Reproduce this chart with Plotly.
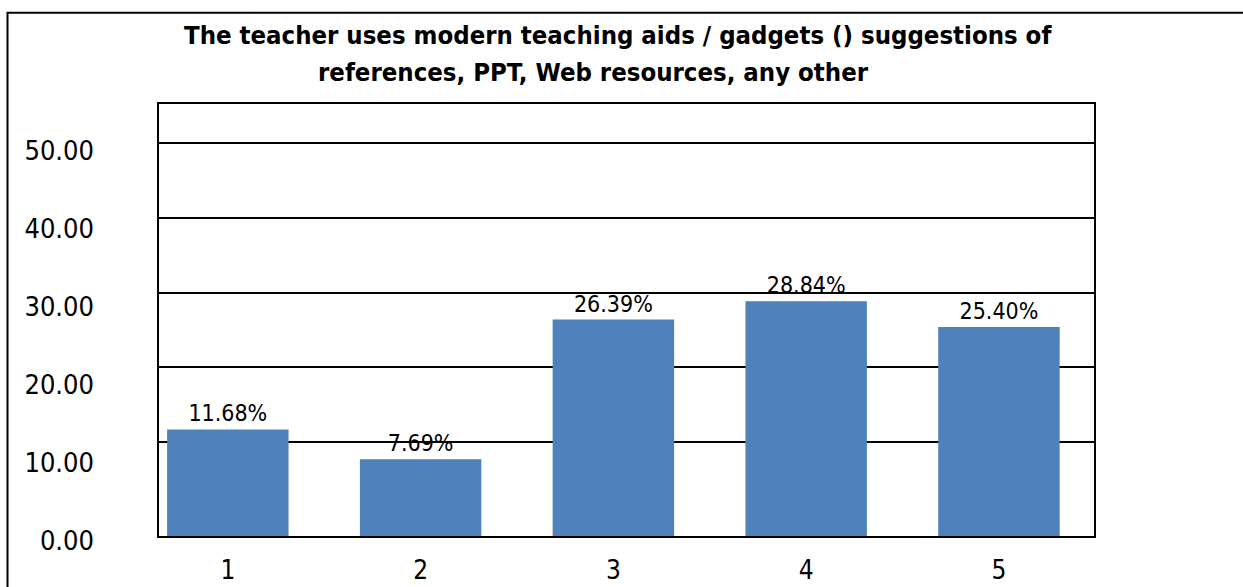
import plotly.graph_objects as go

# ---- data ----
categories = [1, 2, 3, 4, 5]
values = [11.68, 7.69, 26.39, 28.84, 25.40]
value_labels = ["11.68%", "7.69%", "26.39%", "28.84%", "25.40%"]
y_tick_values = [0, 10, 20, 30, 40, 50]
y_tick_labels = ["0.00", "10.00", "20.00", "30.00", "40.00", "50.00"]
grid_values = [10, 20, 30, 40, 50]
title_line1 = "The teacher uses modern teaching aids / gadgets () suggestions of"
title_line2 = "references, PPT, Web resources, any other"

# ---- layout constants ----
W, H = 1243, 587
L, R, T, B = 159, 149, 104, 51
PW, PH = W - L - R, H - T - B
FONT = "DejaVu Sans Condensed, Liberation Sans Narrow, Arial Narrow, Liberation Sans, sans-serif"
Y_MIN, Y_MAX = -2.575, 55.22          # value axis (bars + gridlines)
LBL_MIN, LBL_MAX = -1.538, 53.85       # tick-label axis
BAR_COLOR = "#4F81BD"

def px_x(p):
    return (p - L) / PW

def px_y(p):
    return (H - B - p) / PH

fig = go.Figure()
fig.add_trace(go.Bar(
    x=categories,
    y=[v - Y_MIN for v in values],
    base=Y_MIN,
    text=value_labels,
    textposition="outside",
    textfont=dict(family=FONT, size=23, color="black"),
    marker=dict(color=BAR_COLOR, line=dict(width=0)),
    width=0.63,
    cliponaxis=False,
    hoverinfo="skip",
    showlegend=False,
))
# carrier for the tick-label axis
fig.add_trace(go.Scatter(
    x=[categories[0]], y=[y_tick_values[0]], yaxis="y2",
    mode="markers", marker=dict(opacity=0), hoverinfo="skip", showlegend=False,
))

fig.update_layout(
    width=W, height=H,
    margin=dict(l=L, r=R, t=T, b=B, pad=0),
    paper_bgcolor="white", plot_bgcolor="white",
    font=dict(family=FONT, size=27, color="black"),
    xaxis=dict(
        type="linear", range=[0.643, 5.493], automargin=False,
        tickvals=categories, ticktext=[str(c) for c in categories],
        showgrid=False, zeroline=False,
        showline=True, mirror=True, linecolor="black", linewidth=2,
        ticks="", ticklabelstandoff=10,
        tickfont=dict(family=FONT, size=26, color="black"),
    ),
    yaxis=dict(
        range=[Y_MIN, Y_MAX], tickvals=grid_values, showticklabels=False,
        automargin=False,
        showgrid=True, gridcolor="black", gridwidth=2, zeroline=False,
        showline=True, mirror=True, linecolor="black", linewidth=2, ticks="",
    ),
    yaxis2=dict(
        overlaying="y", side="left", range=[LBL_MIN, LBL_MAX], automargin=False,
        tickvals=y_tick_values, ticktext=y_tick_labels,
        showgrid=False, zeroline=False, showline=False, ticks="",
        ticklabelshift=17, ticklabelstandoff=64,
        tickfont=dict(family=FONT, size=27, color="black"),
    ),
    shapes=[dict(
        type="rect", xref="paper", yref="paper",
        x0=px_x(7.5), x1=px_x(1262), y0=px_y(605), y1=px_y(12.7),
        line=dict(color="black", width=2), fillcolor="rgba(0,0,0,0)", layer="below",
    )],
    annotations=[
        dict(text="<b>" + title_line1 + "</b>", xref="paper", yref="paper",
             x=px_x(618), y=px_y(35), xanchor="center", yanchor="middle",
             showarrow=False, font=dict(family=FONT, size=25.5, color="black")),
        dict(text="<b>" + title_line2 + "</b>", xref="paper", yref="paper",
             x=px_x(593), y=px_y(72), xanchor="center", yanchor="middle",
             showarrow=False, font=dict(family=FONT, size=25.5, color="black")),
    ],
)

fig.write_html("out.html", config={"displayModeBar": False},
               post_script="document.body.style.margin='0';")
